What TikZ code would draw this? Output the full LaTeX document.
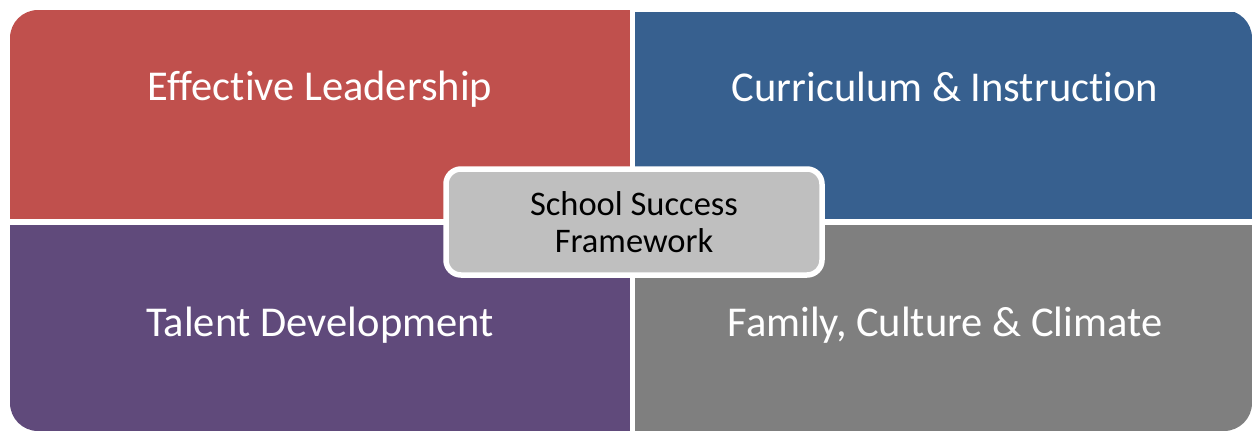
\documentclass[tikz,border=0pt]{standalone}
\usepackage{fontspec}
\setmainfont{Carlito}[Ligatures=NoCommon]
\usepackage{tikz}
\usepackage{xcolor}

\definecolor{leadred}{HTML}{C0504D}
\definecolor{currblue}{HTML}{37608F}
\definecolor{talentpurple}{HTML}{604A7B}
\definecolor{familygrey}{HTML}{7F7F7F}
\definecolor{hubgrey}{HTML}{BFBFBF}

\tikzset{
	quadlabel/.style={text=white,anchor=base,font=\fontsize{42.5}{50}\selectfont},
	hubbox/.style={draw=white,line width=5.5pt,fill=hubgrey,rounded corners=15pt,
		minimum width=376pt,minimum height=106pt,align=center,
		font=\fontsize{34.5}{37}\selectfont}
}

\begin{document}
\begin{tikzpicture}[x=1pt,y=-1pt]
	\useasboundingbox (0,0) rectangle (1253,432);
	
	\begin{scope}
	\clip[rounded corners=28pt] (10,10) rectangle (1252,431);
	\fill[leadred] (10,10) rectangle (630,219);
	\fill[currblue] (635,12) rectangle (1252,219);
	\fill[talentpurple] (10,225) rectangle (630,431);
	\fill[familygrey] (635,225) rectangle (1252,431);
	\end{scope}
	
	\node[quadlabel] (lead) at (320,100) {Effective Leadership};
	\node[quadlabel] (curric) at (945,101) {Curriculum \& Instruction};
	\node[quadlabel] (talent) at (320,336) {Talent Development};
	\node[quadlabel] (family) at (945,336) {Family, Culture \& Climate};
	
	\node[hubbox] (hub) at (634,222) {School Success\\Framework};
\end{tikzpicture}
\end{document}
